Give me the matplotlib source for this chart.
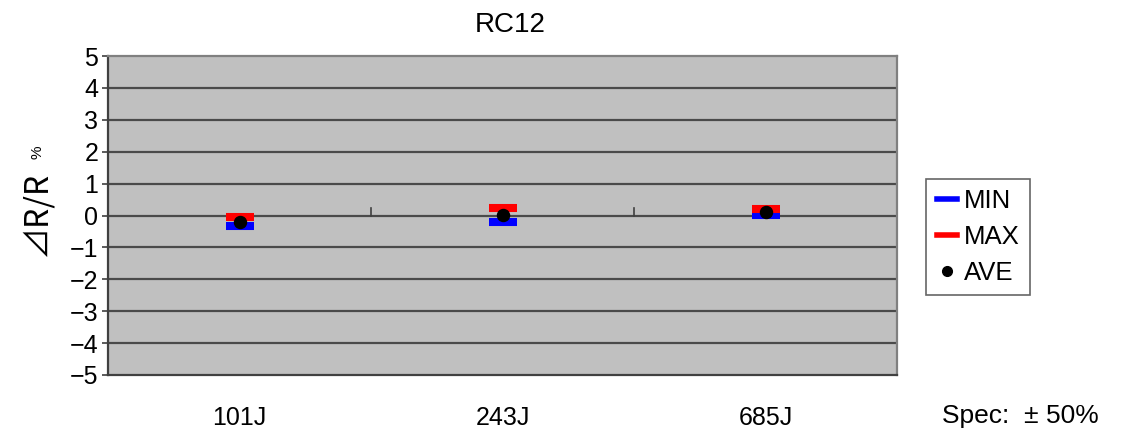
import numpy as np
import matplotlib.pyplot as plt
from matplotlib.lines import Line2D

# data
categories = ["101J", "243J", "685J"]
min_vals = [-0.34, -0.21, 0.03]
max_vals = [-0.06, 0.22, 0.19]
ave_vals = [-0.21, 0.02, 0.1]

plt.rcParams['font.family'] = ['Liberation Sans', 'DejaVu Sans']

fig = plt.figure(figsize=(11.24, 4.34), dpi=100)
ax = fig.add_axes([108 / 1124, 1 - 375 / 434, 789 / 1124, 319 / 434])
ax.set_facecolor('#c0c0c0')

x = np.arange(len(categories))
ax.set_xlim(-0.5, len(categories) - 0.5)
ax.set_ylim(-5, 5)

# horizontal grid
for yv in range(-4, 5):
    ax.axhline(yv, color='#4a4a4a', lw=1.6, zorder=1)

# category boundary ticks on the zero line
for b in np.arange(0.5, len(categories) - 0.5, 1):
    ax.plot([b, b], [0, 0.22], color='#404040', lw=1.2, zorder=2)

ax.scatter(x, min_vals, marker='_', s=380, linewidths=5.8, color='#0000ff', zorder=3)
ax.scatter(x, max_vals, marker='_', s=380, linewidths=5.8, color='#ff0000', zorder=4)
ax.scatter(x, ave_vals, marker='o', s=75, color='black', zorder=5)

ax.set_yticks(range(-5, 6))
ax.set_yticklabels([str(v).replace('-', '\u2212') for v in range(-5, 6)], fontsize=18)
ax.set_xticks(x)
ax.set_xticklabels(categories, fontsize=18)
ax.tick_params(axis='x', length=0, pad=22)
ax.tick_params(axis='y', length=4, width=1.2, color='#404040', pad=3)

for side in ['left', 'bottom']:
    ax.spines[side].set_color('#404040')
    ax.spines[side].set_linewidth(1.6)
for side in ['top', 'right']:
    ax.spines[side].set_color('#808080')
    ax.spines[side].set_linewidth(1.6)

fig.text(510 / 1124, 1 - 25 / 434, "RC12", ha='center', va='center', fontsize=20)
fig.text(36 / 1124, 1 - 213 / 434, "\u22bfR/R", rotation=90, ha='center', va='center',
         fontsize=23, family=['Noto Sans CJK JP', 'DejaVu Sans'])
fig.text(37 / 1124, 1 - 152 / 434, "%", rotation=90, ha='center', va='center',
         fontsize=11)
fig.text(1020 / 1124, 1 - 416 / 434, "Spec:  \u00b1 50%", ha='center', va='center', fontsize=19)

handles = [
    Line2D([], [], color='#0000ff', lw=4, label='MIN'),
    Line2D([], [], color='#ff0000', lw=4, label='MAX'),
    Line2D([], [], color='black', marker='o', ls='none', markersize=7, label='AVE'),
]
leg = fig.legend(handles=handles, loc='center', bbox_to_anchor=(978 / 1124, 1 - 237 / 434),
                 fontsize=18.5, frameon=True, fancybox=False, handlelength=0.8,
                 handletextpad=0.25, borderpad=0.4, labelspacing=0.45, borderaxespad=0)
leg.get_frame().set_edgecolor('#404040')
leg.get_frame().set_linewidth(1.2)

fig.savefig('out.png', dpi=100)
